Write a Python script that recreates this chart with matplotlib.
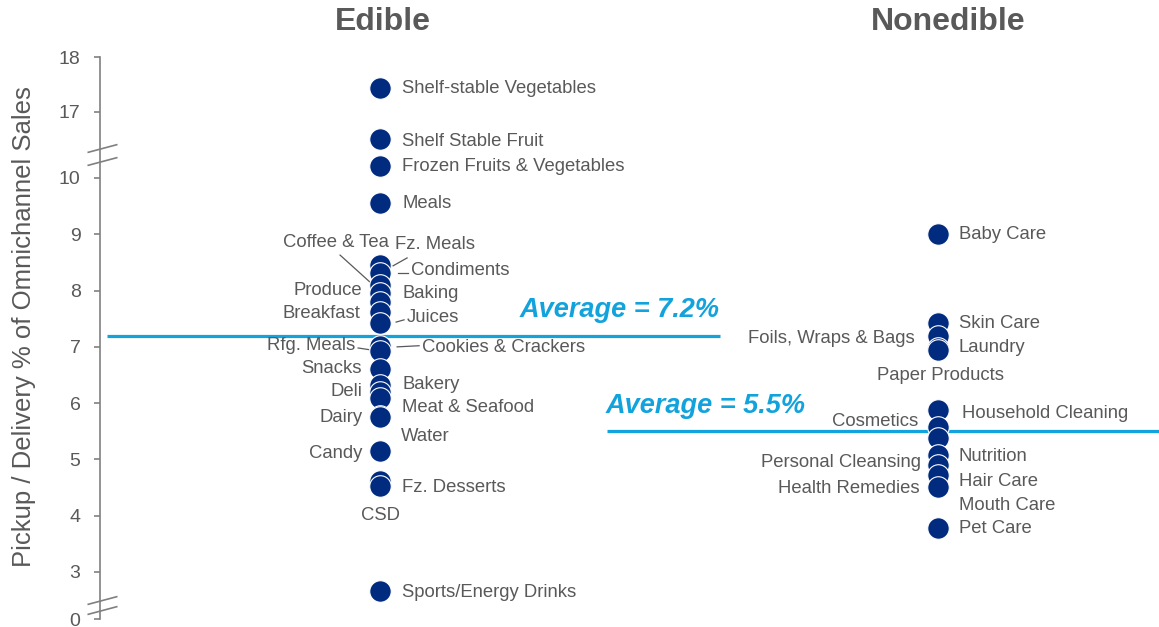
import numpy as np
import matplotlib.pyplot as plt
from matplotlib.path import Path

plt.rcParams['font.family'] = ['Liberation Sans', 'DejaVu Sans']

# Pickup / delivery share of omnichannel sales, by category
edible_names = ["Shelf-stable Vegetables", "Shelf Stable Fruit", "Frozen Fruits & Vegetables",
                "Meals", "Fz. Meals", "Condiments", "Coffee & Tea", "Produce", "Baking",
                "Breakfast", "Juices", "Rfg. Meals", "Cookies & Crackers", "Snacks", "Bakery",
                "Deli", "Meat & Seafood", "Dairy", "Water", "Candy", "CSD", "Fz. Desserts",
                "Sports/Energy Drinks"]
edible_vals = [17.44, 14.14, 11.27, 9.56, 8.45, 8.32, 8.10, 7.95, 7.80, 7.62, 7.42, 7.02,
               6.92, 6.60, 6.33, 6.20, 6.10, 5.77, 5.75, 5.15, 4.62, 4.52, 1.80]

nonedible_names = ["Baby Care", "Skin Care", "Foils, Wraps & Bags", "Laundry", "Paper Products",
                   "Household Cleaning", "Cosmetics", "Nutrition", "Personal Cleansing",
                   "Hair Care", "Health Remedies", "Mouth Care", "Pet Care"]
nonedible_vals = [9.00, 7.43, 7.20, 6.98, 6.95, 5.88, 5.58, 5.38, 5.08, 4.90, 4.73, 4.51, 3.78]

edible_avg = 7.2
nonedible_avg = 5.5

yticks = [0, 3, 4, 5, 6, 7, 8, 9, 10, 17, 18]

# label layout: (side, x offset in points, label y in data units)
edible_lbl = [("r", 16, 17.42), ("r", 16, 13.92), ("r", 16, 11.17), ("r", 16, 9.54),
              ("r", 11, 8.81), ("r", 22, 8.35), ("l", 6.5, 8.85), ("l", -13, 8.01),
              ("r", 16, 7.94), ("l", -14, 7.60), ("r", 19, 7.53), ("l", -18, 7.02),
              ("r", 30, 6.98), ("l", -13, 6.61), ("r", 16, 6.34), ("l", -12.5, 6.20),
              ("r", 16, 5.92), ("l", -12.5, 5.74), ("r", 15, 5.40), ("l", -12.5, 5.10),
              ("c", 0.5, 4.00), ("r", 16, 4.51), ("r", 16, 1.72)]
nonedible_lbl = [("r", 15, 8.99), ("r", 15, 7.41), ("l", -16.5, 7.14), ("r", 15, 6.98),
                 ("c", 1.5, 6.50), ("r", 17, 5.81), ("l", -14.5, 5.67), ("r", 15, 5.05),
                 ("l", -12, 4.94), ("r", 15, 4.60), ("l", -13, 4.48), ("r", 15, 4.19),
                 ("r", 15, 3.77)]

# leader lines for the crowded edible labels: (x0, y0, x1, y1)
leaders = [(-0.0717, 8.63, -0.0125, 8.10), (0.0233, 8.44, 0.0484, 8.58),
           (0.0323, 8.31, 0.0502, 8.31), (0.0287, 7.44, 0.0430, 7.48),
           (-0.0394, 6.98, -0.0197, 6.95), (0.0305, 7.00, 0.0699, 7.02)]

# broken y axis: piecewise linear scale
brk_data = [0, 3, 10, 17, 18]
brk_pos = [0, 47, 441, 507, 562]


def fwd(v):
    return np.interp(v, brk_data, brk_pos)


def inv(p):
    return np.interp(p, brk_pos, brk_data)


navy = "#002b7f"
blue = "#12a2dc"
grey = "#595959"
axis_grey = "#808080"

fig = plt.figure(figsize=(11.59, 6.27), dpi=100)
ax = fig.add_axes([100 / 1159, 8 / 627, 1059 / 1159, 562 / 627])
ax.set_yscale('function', functions=(fwd, inv))
ax.set_ylim(0, 18)
ax.set_xlim(-0.502, 1.396)

# averages
ax.hlines(edible_avg, -0.489, 0.609, color=blue, lw=2.3, zorder=1)
ax.hlines(nonedible_avg, 0.407, 1.396, color=blue, lw=2.3, zorder=1)
ax.text(0.609, 7.66, f"Average = {edible_avg}%", color=blue, fontsize=19.5,
        fontweight='bold', fontstyle='italic', ha='right', va='center')
ax.text(0.762, 5.95, f"Average = {nonedible_avg}%", color=blue, fontsize=19.5,
        fontweight='bold', fontstyle='italic', ha='right', va='center')

# points, drawn top to bottom so the lower ones sit on top
for cx, names, vals, lbls in [(0, edible_names, edible_vals, edible_lbl),
                              (1, nonedible_names, nonedible_vals, nonedible_lbl)]:
    for name, v, (side, dx, ly) in zip(names, vals, lbls):
        ax.plot(cx, v, 'o', ms=15.5, color=navy, mec='white', mew=0.8, zorder=3)
        ha = {"r": "left", "l": "right", "c": "center"}[side]
        ax.annotate(name, xy=(cx, ly), xytext=(dx, 0), textcoords='offset points',
                    ha=ha, va='center', fontsize=13.3, color=grey, zorder=4)

for x0, y0, x1, y1 in leaders:
    ax.plot([x0, x1], [y0, y1], color=grey, lw=0.9, zorder=2)

# axis styling
for s in ['top', 'right', 'bottom']:
    ax.spines[s].set_visible(False)
ax.spines['left'].set_color(axis_grey)
ax.spines['left'].set_linewidth(1.2)
ax.set_xticks([])
ax.set_yticks(yticks)
ax.set_yticklabels([str(t) for t in yticks])
ax.tick_params(axis='y', direction='out', length=4, width=1.2, color=axis_grey,
               labelsize=14, labelcolor=grey, pad=10)

# break marks on the axis
slash = Path([(-13, -4), (17, 4)], [Path.MOVETO, Path.LINETO])
ytr = ax.get_yaxis_transform()
for yb in [13.2, 11.85, 1.24, 0.6]:
    ax.plot(0, yb, marker=slash, ms=24.5, color=axis_grey, mew=1.2,
            transform=ytr, clip_on=False, zorder=5)

ax.set_ylabel("Pickup / Delivery % of Omnichannel Sales", fontsize=18.5, color=grey)
ax.yaxis.set_label_coords(-64 / 1059, 0.52)

fig.text(383 / 1159, 1 - 22 / 627, "Edible", fontsize=23, fontweight='bold',
         color=grey, ha='center', va='center')
fig.text(948 / 1159, 1 - 22 / 627, "Nonedible", fontsize=23, fontweight='bold',
         color=grey, ha='center', va='center')

fig.savefig("out.png", dpi=100)
